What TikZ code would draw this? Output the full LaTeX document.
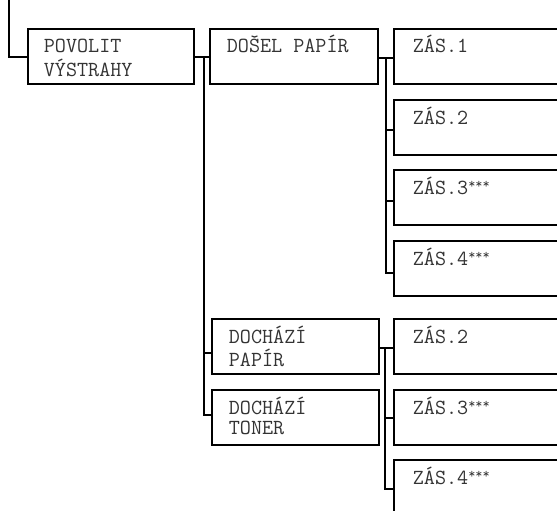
\documentclass[tikz,border=0pt]{standalone}
\usepackage{fontspec}
\setmonofont{Latin Modern Mono}
\newcommand{\lt}[1]{{\ttfamily\fontsize{21.5}{20}\selectfont #1}}
\newcommand{\stars}{\raisebox{6pt}{\fontsize{14}{14}\selectfont ***}}
\newcommand{\twol}[2]{\lt{\begin{tabular}[t]{@{}l@{}}#1\\#2\end{tabular}}}
\begin{document}
\begin{tikzpicture}[x=1pt,y=-1pt,line width=1.8pt,
  box/.style={draw, line width=1.8pt, rectangle, anchor=north west, inner sep=0pt, minimum width=#1, minimum height=55pt},
  box/.default=167pt,
  lbl/.style={anchor=base west, inner sep=0pt, text=black!80},
  conn/.style={draw, line width=1.8pt}
]
\clip (0,0) rectangle (557,511);
\useasboundingbox (0,0) rectangle (557,511);
% boxes
\node[box=166pt] (P) at (27,28) {};
\node[box=168pt] (D) at (209,28) {};
\node[box=200pt] (Z1) at (393,28) {};
\node[box=200pt] (Z2) at (393,99) {};
\node[box=200pt] (Z3) at (393,169) {};
\node[box=200pt] (Z4) at (393,240) {};
\node[box] (DP) at (211,318) {};
\node[box] (DT) at (211,389) {};
\node[box=200pt] (Y2) at (393,318) {};
\node[box=200pt] (Y3) at (393,389) {};
\node[box=200pt] (Y4) at (393,459) {};
% texts
\node[lbl] (tP) at ([shift={(16,25)}]P.north west) {\twol{POVOLIT}{VÝSTRAHY}};
\node[lbl] (tD) at ([shift={(17,25)}]D.north west) {\lt{DOŠEL PAPÍR}};
\node[lbl] (tZ1) at ([shift={(19,25)}]Z1.north west) {\lt{ZÁS.1}};
\node[lbl] (tZ2) at ([shift={(19,25)}]Z2.north west) {\lt{ZÁS.2}};
\node[lbl] (tZ3) at ([shift={(19,25)}]Z3.north west) {\lt{ZÁS.3\stars}};
\node[lbl] (tZ4) at ([shift={(19,25)}]Z4.north west) {\lt{ZÁS.4\stars}};
\node[lbl] (tDP) at ([shift={(17,25)}]DP.north west) {\twol{DOCHÁZÍ}{PAPÍR}};
\node[lbl] (tDT) at ([shift={(17,25)}]DT.north west) {\twol{DOCHÁZÍ}{TONER}};
\node[lbl] (tY2) at ([shift={(19,25)}]Y2.north west) {\lt{ZÁS.2}};
\node[lbl] (tY3) at ([shift={(19,25)}]Y3.north west) {\lt{ZÁS.3\stars}};
\node[lbl] (tY4) at ([shift={(19,25)}]Y4.north west) {\lt{ZÁS.4\stars}};
% connector points
\coordinate (top) at (9,0);
\coordinate (Pin) at ([yshift=-29pt]P.north west);
\coordinate (Pout) at ([yshift=-29pt]P.north east);
\coordinate (Din) at ([yshift=-29pt]D.north west);
\coordinate (Dout) at ([yshift=-30pt]D.north east);
\coordinate (DPin) at ([yshift=-35pt]DP.north west);
\coordinate (DTin) at ([yshift=-26pt]DT.north west);
\coordinate (DPout) at ([yshift=-30pt]DP.north east);
\coordinate (Z1in) at ([yshift=-30pt]Z1.north west);
\coordinate (Z2in) at ([yshift=-31pt]Z2.north west);
\coordinate (Z3in) at ([yshift=-32pt]Z3.north west);
\coordinate (Z4in) at ([yshift=-33pt]Z4.north west);
\coordinate (Y2in) at ([yshift=-30pt]Y2.north west);
\coordinate (Y3in) at ([yshift=-29pt]Y3.north west);
\coordinate (Y4in) at ([yshift=-30pt]Y4.north west);
\coordinate (j1) at (204,57);
\coordinate (j2) at (386,58);
\coordinate (j3) at (385,348);
% connectors
\draw[conn] (top) |- (Pin);
\draw[conn] (Pout) -- (Din);
\draw[conn] (j1) |- (DTin);
\draw[conn] (j1 |- DPin) -- (DPin);
\draw[conn] (Dout) -- (Z1in);
\draw[conn] (j2) |- (Z4in);
\draw[conn] (j2 |- Z2in) -- (Z2in);
\draw[conn] (j2 |- Z3in) -- (Z3in);
\draw[conn] (DPout) -- (Y2in);
\draw[conn] (j3) |- (Y4in);
\draw[conn] (j3 |- Y3in) -- (Y3in);
\end{tikzpicture}
\end{document}
